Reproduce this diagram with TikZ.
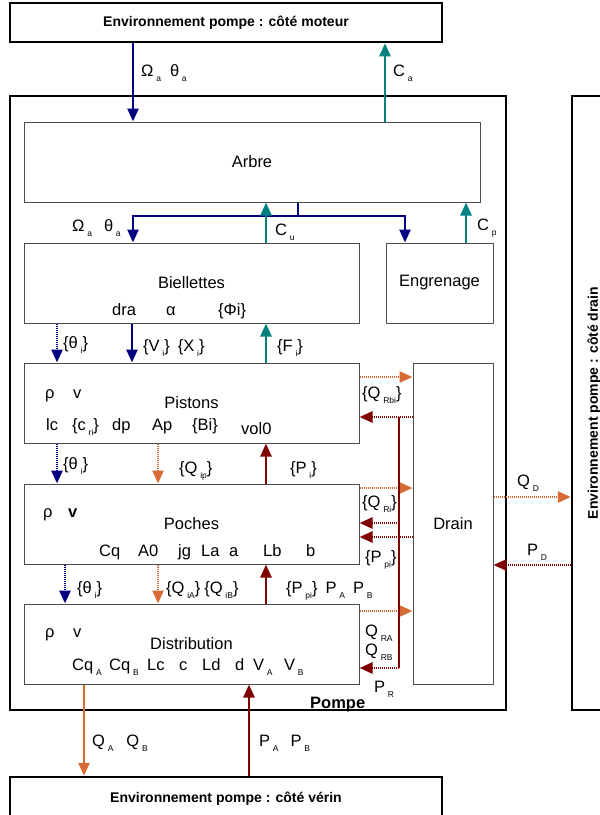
\documentclass[tikz,border=0pt]{standalone}
\usepackage{fontspec}
\setmainfont{Liberation Sans}
\usepackage{tikz}
\usetikzlibrary{arrows.meta,calc}
\usepackage{xcolor}
\definecolor{cNavy}{RGB}{0,0,128}
\definecolor{cTeal}{RGB}{0,128,128}
\definecolor{cOrange}{RGB}{214,108,52}
\definecolor{cRed}{RGB}{128,0,0}
\newcommand{\sbs}[1]{\,\raisebox{-5.5pt}{\fontsize{8.5}{8.5}\selectfont #1}}

\begin{document}
\begin{tikzpicture}[
    x=1pt, y=-1pt,
    every node/.style={font=\fontsize{16.5}{18}\selectfont},
    envbox/.style={rectangle, draw, line width=2.5pt, font=\bfseries\fontsize{14}{16}\selectfont},
    block/.style={rectangle, draw=black!70, line width=1pt, minimum height=80pt},
    lbl/.style={anchor=base west, inner sep=0pt},
    tip/.style={line width=2.5pt, -{Triangle[length=13pt,width=11pt]}},
    dots/.style={dash pattern=on 1pt off 1pt},
    motion/.style={tip, draw=cNavy},
    motiondot/.style={motion, dots},
    torque/.style={tip, draw=cTeal},
    flowline/.style={tip, draw=cOrange},
    flowdot/.style={flowline, dots},
    press/.style={tip, draw=cRed},
    pressdot/.style={press, dots}
]
    \useasboundingbox (0,0) rectangle (600,815);

    % Environment
    \node[envbox, minimum width=432pt, minimum height=39pt] (moteur) at (226,22.5) {Environnement pompe : côté moteur};
    \node[envbox, minimum width=432pt, minimum height=44pt] (verin) at (226,799) {Environnement pompe : côté vérin};
    \node[envbox, rotate=90, minimum width=614pt, minimum height=44pt] (envdrain) at (594,403) {Environnement pompe : côté drain};

    % Pump
    \node[rectangle, draw, line width=2.5pt, minimum width=496pt, minimum height=614pt] (pompe) at (258,403) {};
    \node[lbl, font=\bfseries\fontsize{16.5}{18}\selectfont] (pompelbl) at (310,708) {Pompe};

    % Blocks
    \node[block, minimum width=456pt] (arbre) at (252,162) {Arbre};
    \node[block, minimum width=335pt] (biel) at (191.5,283) {Biellettes};
    \node[block, minimum width=107pt] (engr) at (439.5,283) {Engrenage};
    \node[block, minimum width=335pt] (pist) at (191.5,403) {Pistons};
    \node[block, minimum width=335pt] (poch) at (191.5,524) {Poches};
    \node[block, minimum width=335pt] (distr) at (191.5,644) {Distribution};
    \node[block, minimum width=80pt, minimum height=321pt] (drain) at (453,523.5) {Drain};

    % Biellettes parameters
    \node[lbl] (bDra) at (112,315) {dra};
    \node[lbl] (bAlpha) at (166,315) {α};
    \node[lbl] (bPhi) at (218,315) {\{Φi\}};

    % Pistons parameters
    \node[lbl] (pRho) at (45,398) {ρ};
    \node[lbl] (pV) at (73,398) {v};
    \node[lbl] (pLc) at (46,430) {lc};
    \node[lbl] (pCr) at (72,430) {\{c\sbs{ri}\}};
    \node[lbl] (pDp) at (112,430) {dp};
    \node[lbl] (pAp) at (152,430) {Ap};
    \node[lbl] (pBi) at (192,430) {\{Bi\}};
    \node[lbl] (pVol) at (241,434) {vol0};

    % Poches parameters
    \node[lbl] (cRho) at (43,517) {ρ};
    \node[lbl] (cV) at (68,517) {\textbf{v}};
    \node[lbl] (cCq) at (99,556) {Cq};
    \node[lbl] (cAz) at (138,556) {A0};
    \node[lbl] (cJg) at (178,556) {jg};
    \node[lbl] (cLa) at (201,556) {La};
    \node[lbl] (cA) at (229,556) {a};
    \node[lbl] (cLb) at (263,556) {Lb};
    \node[lbl] (cB) at (306,556) {b};

    % Distribution parameters
    \node[lbl] (dRho) at (45,637) {ρ};
    \node[lbl] (dV) at (73,637) {v};
    \node[lbl] (dCqA) at (72,670) {Cq\sbs{A}};
    \node[lbl] (dCqB) at (109,670) {Cq\sbs{B}};
    \node[lbl] (dLc) at (147,670) {Lc};
    \node[lbl] (dC) at (179,670) {c};
    \node[lbl] (dLd) at (202,670) {Ld};
    \node[lbl] (dD) at (235,670) {d};
    \node[lbl] (dVA) at (253,670) {V\sbs{A}};
    \node[lbl] (dVB) at (284,670) {V\sbs{B}};

    % Motor side
    \draw[motion] (133,0 |- moteur.south) -- (133,0 |- arbre.north);
    \draw[torque] (385,0 |- arbre.north) -- (385,0 |- moteur.south);
    \node[lbl] (lOmTop) at (141,76) {Ω\sbs{a}\hspace{9pt}θ\sbs{a}};
    \node[lbl] (lCa) at (393,76) {C\sbs{a}};

    % Arbre to Biellettes / Engrenage
    \coordinate (split) at (298,216);
    \draw[motion, -] (arbre.south -| split) -- (split);
    \draw[motion] (split) -| (biel.north -| 133,0);
    \draw[motion] (split) -| (engr.north -| 405,0);
    \draw[torque] (266,0 |- biel.north) -- (266,0 |- arbre.south);
    \draw[torque] (466,0 |- engr.north) -- (466,0 |- arbre.south);
    \node[lbl] (lOmBiel) at (72,231) {Ω\sbs{a}\hspace{12pt}θ\sbs{a}};
    \node[lbl] (lCu) at (275,235) {C\sbs{u}};
    \node[lbl] (lCp) at (477,230) {C\sbs{p}};

    % Biellettes to Pistons
    \draw[motiondot] (57,0 |- biel.south) -- (57,0 |- pist.north);
    \draw[motion] (132,0 |- biel.south) -- (132,0 |- pist.north);
    \draw[torque] (266,0 |- pist.north) -- (266,0 |- biel.south);
    \node[lbl] (lThA) at (63,348) {\{θ\sbs{i}\}};
    \node[lbl] (lVX) at (143,351) {\{V\sbs{i}\}\hspace{8pt}\{X\sbs{i}\}};
    \node[lbl] (lF) at (277,351) {\{F\sbs{i}\}};

    % Pistons to Poches
    \draw[motiondot] (57,0 |- pist.south) -- (57,0 |- poch.north);
    \draw[flowdot] (158,0 |- pist.south) -- (158,0 |- poch.north);
    \draw[press] (266,0 |- poch.north) -- (266,0 |- pist.south);
    \node[lbl] (lThB) at (63,469) {\{θ\sbs{i}\}};
    \node[lbl] (lQip) at (179,473) {\{Q\sbs{ip}\}};
    \node[lbl] (lPi) at (290,473) {\{P\sbs{i}\}};

    % Poches to Distribution
    \draw[motiondot] (65,0 |- poch.south) -- (65,0 |- distr.north);
    \draw[flowdot] (158,0 |- poch.south) -- (158,0 |- distr.north);
    \draw[press] (266,0 |- distr.north) -- (266,0 |- poch.south);
    \node[lbl] (lThC) at (77,593) {\{θ\sbs{i}\}};
    \node[lbl] (lQiAB) at (166,593) {\{Q\sbs{iA}\}\hspace{4pt}\{Q\sbs{iB}\}};
    \node[lbl] (lPpiAB) at (286,593) {\{P\sbs{pi}\}\hspace{8pt}P\sbs{A}\hspace{8pt}P\sbs{B}};

    % Distribution to cylinder side
    \draw[flowline] (84,0 |- distr.south) -- (84,0 |- verin.north);
    \draw[press] (249,0 |- verin.north) -- (249,0 |- distr.south);
    \node[lbl] (lQAB) at (92,746) {Q\sbs{A}\hspace{13pt}Q\sbs{B}};
    \node[lbl] (lPAB) at (259,746) {P\sbs{A}\hspace{12pt}P\sbs{B}};

    % Leakage to Drain
    \draw[flowdot] (pist.east |- 0,377) -- (drain.west |- 0,377);
    \draw[flowdot] (poch.east |- 0,488) -- (drain.west |- 0,488);
    \draw[flowdot] (distr.east |- 0,611) -- (drain.west |- 0,611);
    \node[lbl] (lQRbi) at (362,398) {\{Q\sbs{Rbi}\}};
    \node[lbl] (lQRi) at (362,507) {\{Q\sbs{Ri}\}};
    \node[lbl] (lQRA) at (365,636) {Q\sbs{RA}};
    \node[lbl] (lQRB) at (365,655) {Q\sbs{RB}};

    % Drain pressure back
    \coordinate (rtop) at (399,417);
    \coordinate (rbot) at (399,668);
    \draw[pressdot] (drain.west |- rtop) -- (pist.east |- rtop);
    \draw[press, -] (rtop) -- (rbot);
    \draw[pressdot] (rtop |- 0,523) -- (poch.east |- 0,523);
    \draw[pressdot] (drain.west |- 0,537) -- (poch.east |- 0,537);
    \draw[pressdot] (rbot) -- (distr.east |- rbot);
    \node[lbl] (lPpi) at (365,562) {\{P\sbs{pi}\}};
    \node[lbl] (lPR) at (374,692) {P\sbs{R}};

    % Drain side
    \draw[flowdot] (drain.east |- 0,497) -- (envdrain.north |- 0,497);
    \draw[pressdot] (envdrain.north |- 0,565) -- (drain.east |- 0,565);
    \node[lbl] (lQD) at (517,486) {Q\sbs{D}};
    \node[lbl] (lPD) at (527,555) {P\sbs{D}};
\end{tikzpicture}
\end{document}
